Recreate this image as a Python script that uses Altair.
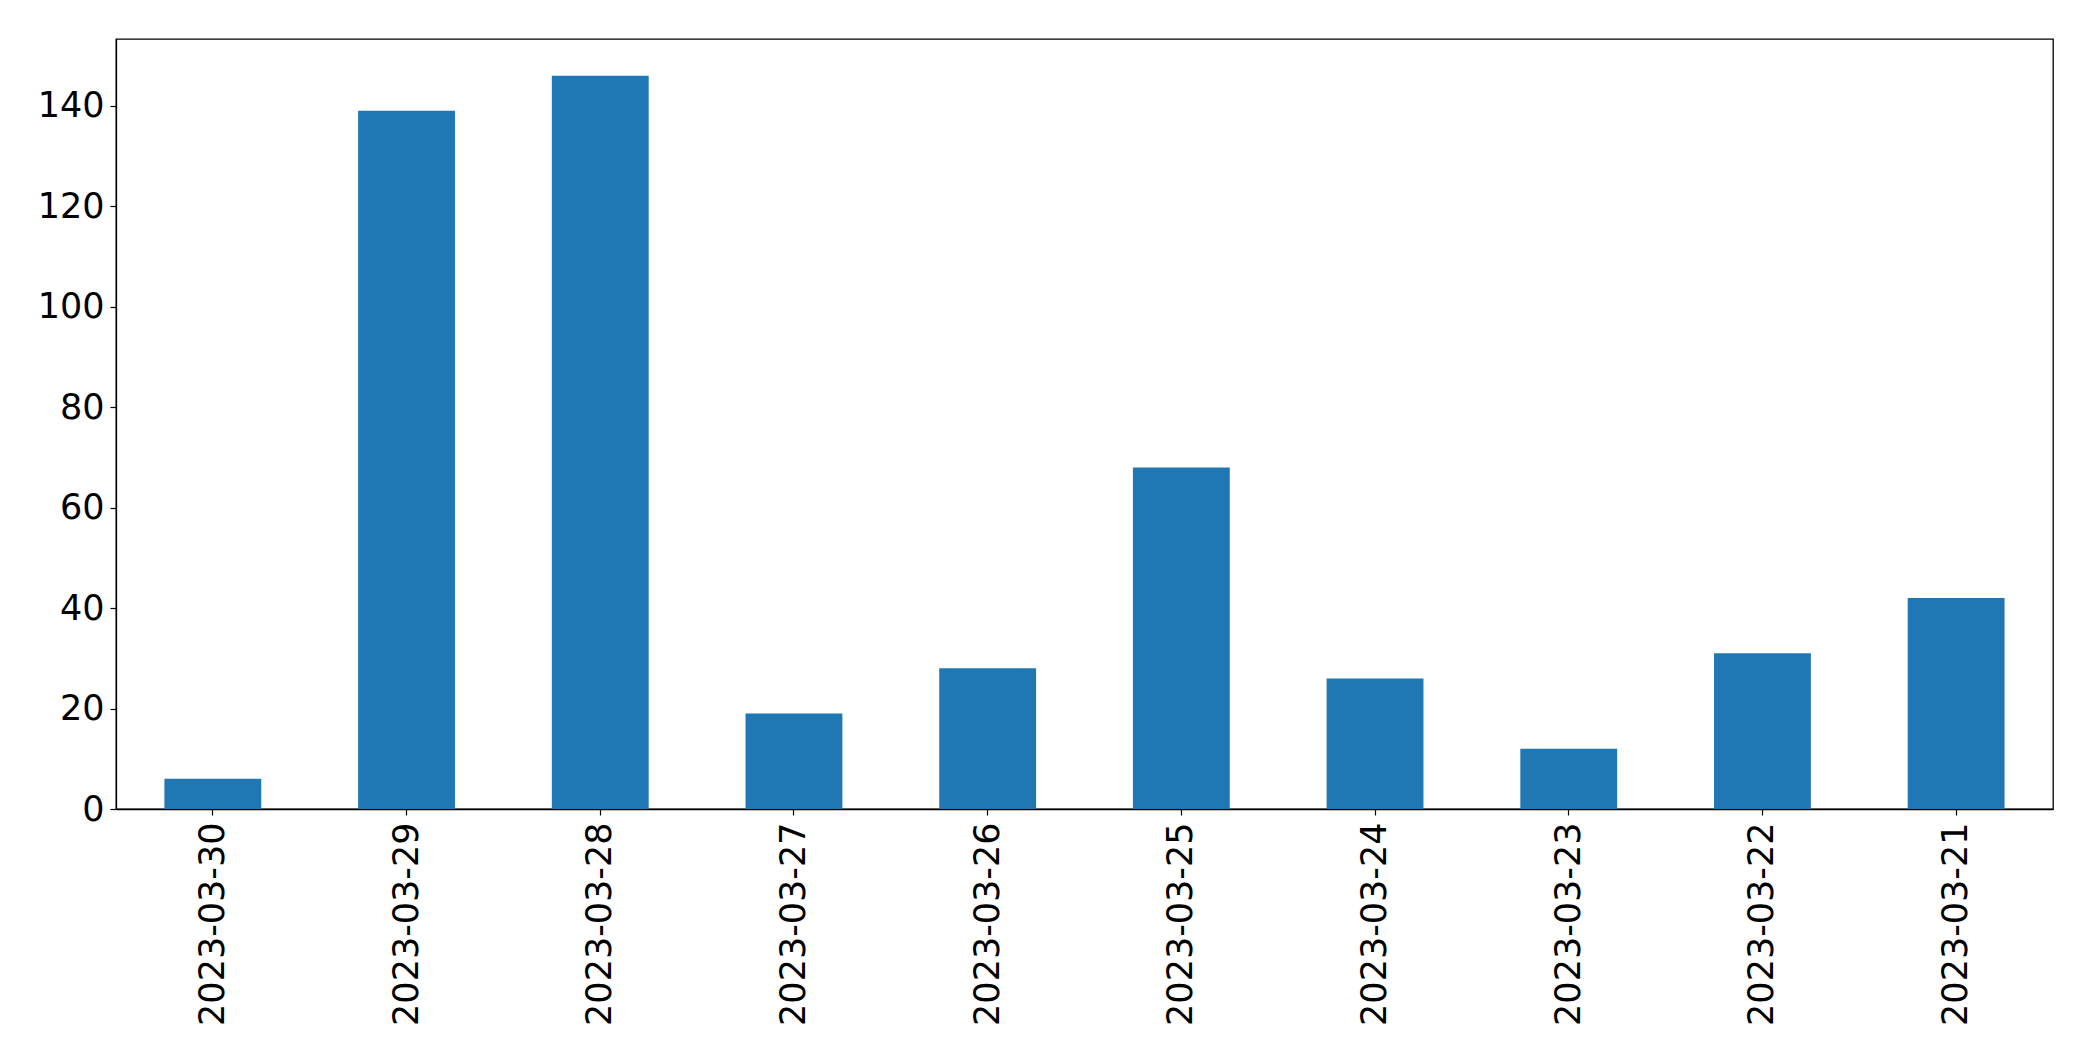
import altair as alt
import pandas as pd

dates = ["2023-03-30", "2023-03-29", "2023-03-28", "2023-03-27", "2023-03-26",
         "2023-03-25", "2023-03-24", "2023-03-23", "2023-03-22", "2023-03-21"]
counts = [6, 139, 146, 19, 28, 68, 26, 12, 31, 42]
y_ticks = [0, 20, 40, 60, 80, 100, 120, 140]

df = pd.DataFrame({"date": dates, "count": counts})

FONT = "DejaVu Sans"

chart = alt.Chart(df).mark_bar(color="#1f77b4").encode(
    x=alt.X("date:N", sort=None, title=None,
            scale=alt.Scale(paddingInner=0.5, paddingOuter=0.25),
            axis=alt.Axis(labelAngle=270, labelFont=FONT, labelFontSize=35,
                          labelLimit=0, labelColor="black", tickColor="black",
                          domainColor="black", tickSize=6, tickWidth=1.2,
                          domainWidth=1.3, labelPadding=7)),
    y=alt.Y("count:Q", title=None,
            scale=alt.Scale(domain=[0, 153.3], nice=False, zero=True),
            axis=alt.Axis(values=y_ticks, grid=False, labelFont=FONT, labelFontSize=35,
                          labelColor="black", tickColor="black", domainColor="black",
                          tickSize=6, tickWidth=1.2, domainWidth=1.3, labelPadding=6)),
).properties(
    width=1937,
    height=770,
    background="white",
    autosize=alt.AutoSizeParams(type="none"),
    padding={"left": 108, "top": 31, "right": 24, "bottom": 230},
).configure_view(
    stroke="black", strokeWidth=1.3
)

chart.save("out.html", embed_options={"renderer": "svg", "actions": False})
